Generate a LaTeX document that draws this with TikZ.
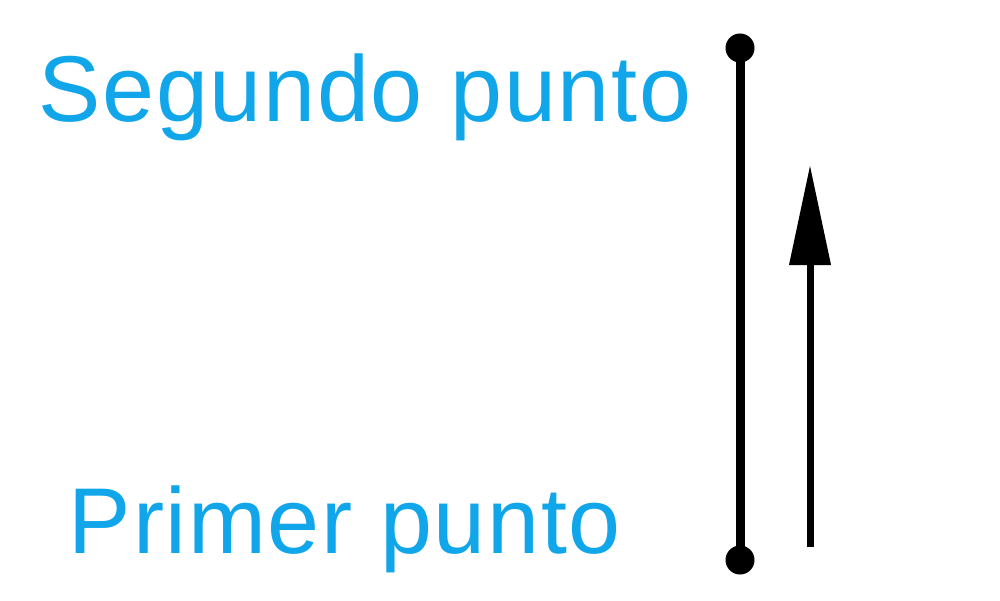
\documentclass[tikz,border=0pt]{standalone}
\usepackage{fontspec}
\setmainfont{Liberation Sans}
\newfontfamily\fuenteetiqueta[LetterSpace=1.8]{Liberation Sans}
\usetikzlibrary{arrows.meta}
\definecolor{azulpunto}{RGB}{17,166,234}
\begin{document}
\begin{tikzpicture}
\useasboundingbox (0, 0) rectangle (10, 6);
\tikzset{
	punto/.style={circle, fill, inner sep=0pt, minimum size=2.9mm},
	etiqueta/.style={text=azulpunto, anchor=base, inner sep=0pt,
		font=\fuenteetiqueta\fontsize{26.6}{30}\selectfont}
}
\def\drawpoint#1#2#3#4{% {nombre}{altura}{texto}{posicion del texto}
	\node[punto] (#1) at (7.4, #2) {};
	\node[etiqueta] (#1 texto) at (#4) {#3};
}

\drawpoint{primero}{0.40}{Primer punto}{3.45, 0.47}
\drawpoint{segundo}{5.52}{Segundo punto}{3.65, 4.78}
\draw[line width=0.9mm] (primero.center) -- (segundo.center);

\coordinate (flecha inicio) at (8.1, 0.53);
\coordinate (flecha fin) at (8.1, 4.35);
\draw[line width=0.7mm, -{Triangle[length=1cm, width=4mm]}] (flecha inicio) -- (flecha fin);
\end{tikzpicture}
\end{document}
